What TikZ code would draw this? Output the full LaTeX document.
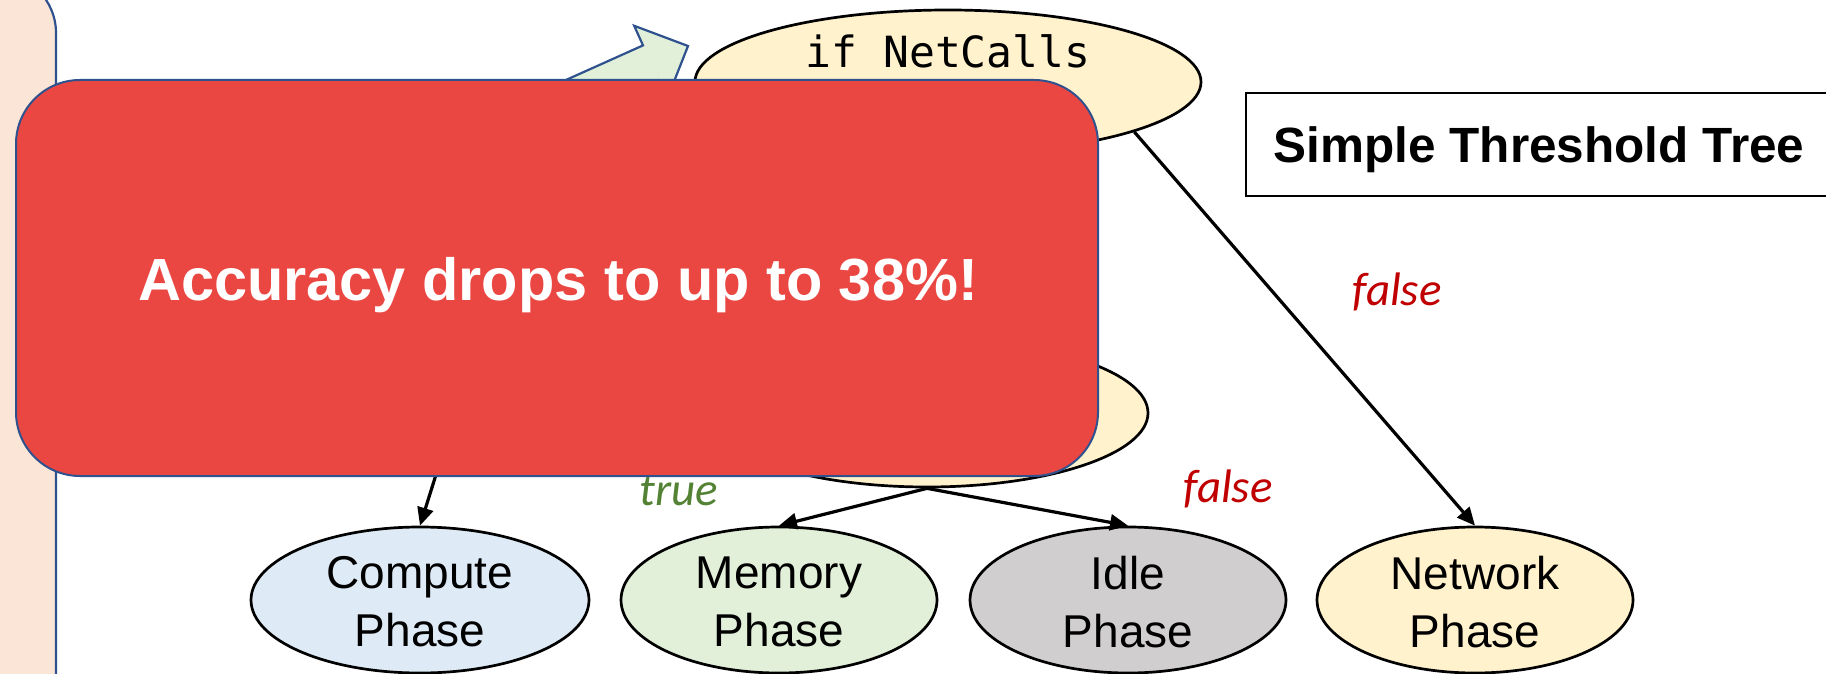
\documentclass[tikz,border=0pt]{standalone}
\usepackage{fontspec}
\setmainfont{Liberation Sans}
\newfontfamily\codefont{DejaVu Sans Mono}
\newfontfamily\branchfont{Carlito}
\usetikzlibrary{shapes.geometric,arrows.meta}

\definecolor{peachfill}{HTML}{FBE5D6}
\definecolor{frameblue}{HTML}{2F528F}
\definecolor{arrowgreen}{HTML}{E2F0D9}
\definecolor{condfill}{HTML}{FFF2CC}
\definecolor{computefill}{HTML}{DEEBF7}
\definecolor{memoryfill}{HTML}{E2F0D9}
\definecolor{idlefill}{HTML}{D0CECE}
\definecolor{networkfill}{HTML}{FFF2CC}
\definecolor{alertred}{HTML}{EB4742}
\definecolor{truegreen}{HTML}{548235}
\definecolor{falsered}{HTML}{C00000}

\tikzset{
  oval/.style={ellipse, draw=black, line width=2.7pt, inner sep=0pt},
  phase/.style={oval, minimum height=146pt, minimum width=316pt},
  phasetext/.style={align=center, font=\fontsize{46}{58}\selectfont},
  edge/.style={line width=3.2pt, -{Triangle[length=18pt,width=16pt]}},
  truelbl/.style={anchor=base, text=truegreen, font=\branchfont\itshape\fontsize{47}{56}\selectfont},
  falselbl/.style={anchor=base, text=falsered, font=\branchfont\itshape\fontsize{47}{56}\selectfont},
}

\begin{document}
\begin{tikzpicture}[x=1pt,y=-1pt]
\useasboundingbox (0,0) rectangle (1826,674);

% side panel on the left
\draw[fill=peachfill, draw=frameblue, line width=2.2pt, rounded corners=60pt]
  (-120,-27) rectangle (56,760);

% block arrow pointing at the root test
\draw[fill=arrowgreen, draw=frameblue, line width=2.2pt, line join=miter]
  (369,168.4) -- (643,45.4) -- (634.2,25.8) -- (688,46) -- (666.8,99.8)
  -- (658,80.2) -- (384,202.2) -- cycle;

% decision nodes
\node[oval, fill=condfill, minimum width=506pt, minimum height=144pt] (root) at (948,82) {};
\node[anchor=base, font=\codefont\fontsize{43}{50}\selectfont] (rootq) at (948,68) {if NetCalls};
\node[oval, fill=condfill, minimum width=442pt, minimum height=148pt] (cond) at (927,413) {};

% leaf phases
\node[phase, fill=computefill, minimum width=338pt] (comp) at (420,600) {};
\node[phasetext] at ([yshift=-2pt]comp) {Compute\\Phase};
\node[phase, fill=memoryfill] (mem) at (779,600) {};
\node[phasetext] at ([yshift=-2pt]mem) {Memory\\Phase};
\node[phase, fill=idlefill] (idle) at (1128,600) {};
\node[phasetext] at ([yshift=-2pt]idle) {Idle\\Phase};
\node[phase, fill=networkfill] (net) at (1475,600) {};
\node[phasetext] at ([yshift=-2pt]net) {Network\\Phase};

% branches
\coordinate (upper) at (451,427);
\draw[edge] (upper) -- (comp.north);
\draw[edge] (root.-15.4) -- (net.north);
\draw[edge] (cond.south) -- (mem.north);
\draw[edge] (cond.south) -- (idle.north);

% branch labels
\node[truelbl] (tmem) at (679,505) {true};
\node[falselbl] (fidle) at (1228,502) {false};
\node[falselbl] (fnet) at (1397,305) {false};

% title frame
\draw[line width=2.5pt] (1246,93) rectangle (1860,196);
\node[anchor=base west, font=\bfseries\fontsize{49.5}{58}\selectfont] (title) at (1270,162) {Simple Threshold Tree};

% overlay message
\node[fill=alertred, draw=frameblue, line width=2pt, rounded corners=64pt,
      minimum width=1082pt, minimum height=396pt, inner sep=0pt] (alert) at (557,278) {};
\node[anchor=base, text=white, font=\bfseries\fontsize{59.5}{70}\selectfont] (msg) at (558,300) {Accuracy drops to up to 38\%!};
\end{tikzpicture}
\end{document}
